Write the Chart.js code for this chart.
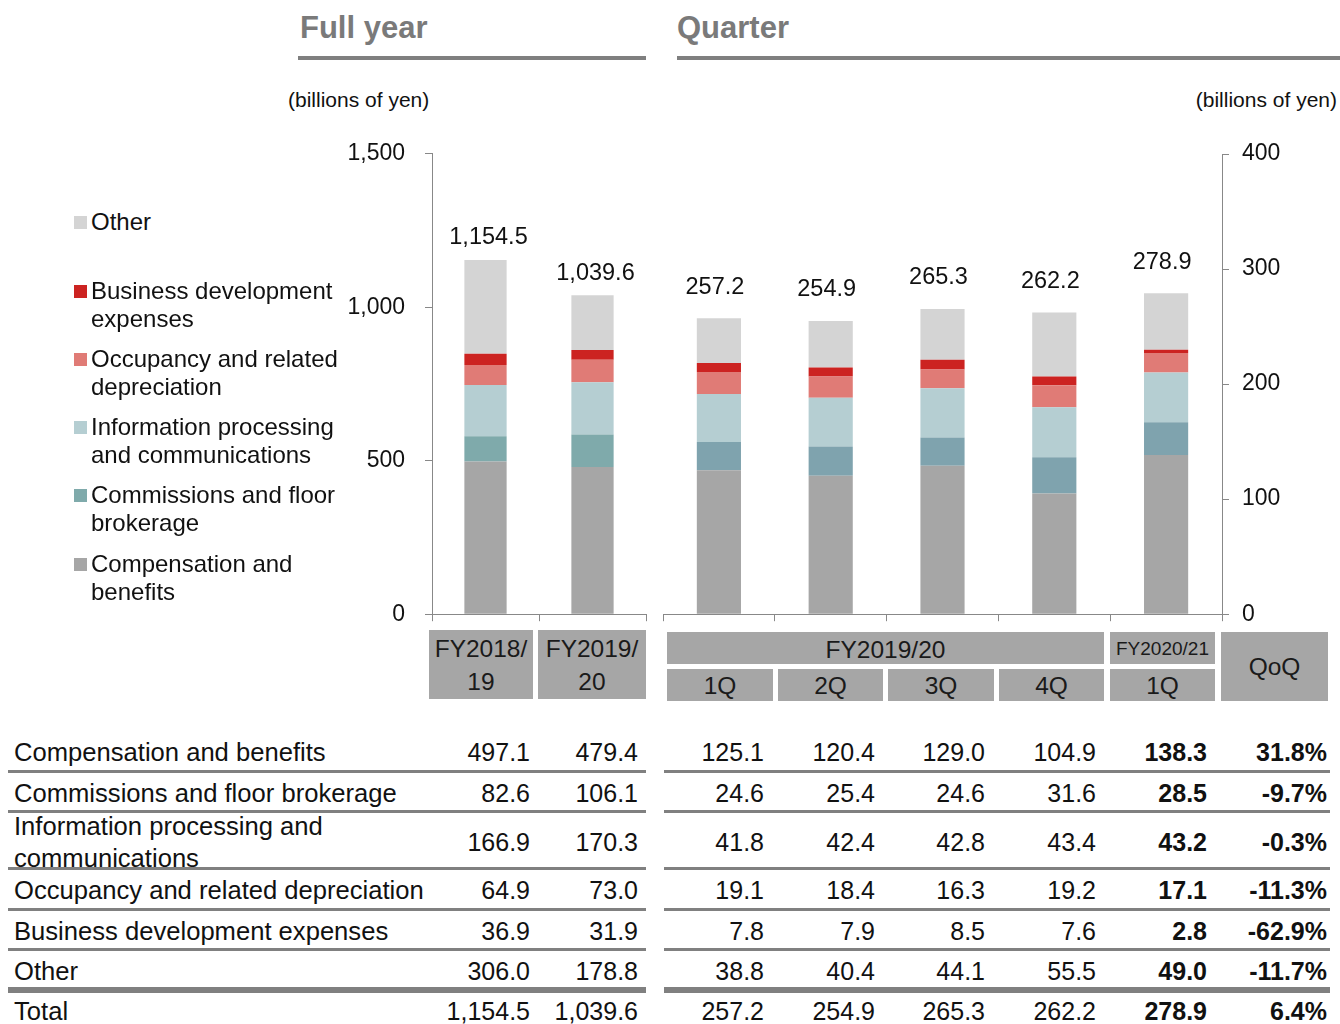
<!DOCTYPE html>
<html><head><meta charset="utf-8">
<script src="https://cdn.jsdelivr.net/npm/chart.js@4.4.0/dist/chart.umd.min.js"></script>
<style>
body{margin:0;width:1340px;height:1024px;position:relative;background:#fff;font-family:"Liberation Sans",Arial,sans-serif;overflow:hidden;color:#111}
.title{position:absolute;font-weight:bold;font-size:31px;color:#7a7a7a;line-height:36px}
.rule{position:absolute;background:#7f7f7f;height:4px}
.unit{position:absolute;font-size:21px;color:#111;line-height:24px}
.sw{position:absolute;width:13px;height:13px}
.lt{position:absolute;font-size:24px;line-height:27.5px;white-space:pre;color:#111}
.hbox{position:absolute;background:#a6a6a6;color:#1a1a1a;font-size:24.5px;display:flex;align-items:center;justify-content:center;text-align:center;line-height:33px;white-space:pre}
.cell{position:absolute;font-size:25px;white-space:pre;line-height:32px;transform:translateY(-50%)}
.cell.lab{font-size:25.6px}
.hl{position:absolute;background:#808080}
canvas{position:absolute}
</style>
</head><body>
<div class="title" style="left:300px;top:10px">Full year</div>
<div class="rule" style="left:298px;top:56px;width:348px"></div>
<div class="title" style="left:677px;top:10px">Quarter</div>
<div class="rule" style="left:677px;top:56px;width:663px"></div>
<div class="unit" style="left:288px;top:88px">(billions of yen)</div>
<div class="unit" style="right:3px;top:88px">(billions of yen)</div>

<canvas id="cFY" width="350" height="528" style="left:300px;top:120px"></canvas>
<canvas id="cQ" width="700" height="521" style="left:640px;top:120px"></canvas>
<div id="legend"></div>
<div id="table"></div>

<script>
// ---- data ----
const seriesNames = ['Compensation and benefits','Commissions and floor brokerage','Information processing and communications','Occupancy and related depreciation','Business development expenses','Other'];
const fyCategories = ['FY2018/\n19','FY2019/\n20'];
const qGroups = ['FY2019/20','FY2020/21'];
const qCategories = ['1Q','2Q','3Q','4Q','1Q'];

const compFY = [497.1, 479.4];
const commFY = [82.6, 106.1];
const infoFY = [166.9, 170.3];
const occFY  = [64.9, 73.0];
const busFY  = [36.9, 31.9];
const otherFY= [306.0, 178.8];
const totalFY= [1154.5, 1039.6];

const compQ = [125.1, 120.4, 129.0, 104.9, 138.3];
const commQ = [24.6, 25.4, 24.6, 31.6, 28.5];
const infoQ = [41.8, 42.4, 42.8, 43.4, 43.2];
const occQ  = [19.1, 18.4, 16.3, 19.2, 17.1];
const busQ  = [7.8, 7.9, 8.5, 7.6, 2.8];
const otherQ= [38.8, 40.4, 44.1, 55.5, 49.0];
const totalQ= [257.2, 254.9, 265.3, 262.2, 278.9];

const qoq = ['31.8%','-9.7%','-0.3%','-11.3%','-62.9%','-11.7%','6.4%'];
const tableRowLabels = ['Compensation and benefits','Commissions and floor brokerage','Information processing and\ncommunications','Occupancy and related depreciation','Business development expenses','Other','Total'];
const fyTicks = [0, 500, 1000, 1500];
const qTicks = [0, 100, 200, 300, 400];

// ---- styles ----
const colorsFY = ['#a6a6a6','#7faaab','#b5ced2','#e07b76','#cc2321','#d4d4d4'];
const colorsQ  = ['#a6a6a6','#7fa3ae','#b5ced2','#e07b76','#cc2321','#d4d4d4'];
const FONT = '"Liberation Sans", Arial, sans-serif';

const fmt = v => v.toLocaleString('en-US',{minimumFractionDigits:1,maximumFractionDigits:1});

const totalLabels = {
  id:'totalLabels',
  afterDatasetsDraw(chart, args, opts){
    const ctx = chart.ctx;
    const metas = chart.getSortedVisibleDatasetMetas();
    const top = metas[metas.length-1];
    ctx.save();
    ctx.font = '23.5px ' + FONT;
    ctx.fillStyle = '#111';
    ctx.textAlign = 'center';
    ctx.textBaseline = 'middle';
    top.data.forEach((el,i)=>{ ctx.fillText(fmt(opts.totals[i]), el.x + (opts.dx||0), el.y - opts.offset); });
    ctx.restore();
  }
};

function build(id, labels, seriesData, colors, o){
  return new Chart(document.getElementById(id), {
    type:'bar',
    data:{
      labels: labels,
      datasets: seriesData.map((d,i)=>({label:seriesNames[i], data:d, backgroundColor:colors[i], borderWidth:0,
        categoryPercentage:1, barPercentage:0.395}))
    },
    options:{
      responsive:false, animation:false, devicePixelRatio:1,
      layout:{padding:o.padding},
      plugins:{legend:{display:false}, tooltip:{enabled:false}, totalLabels:{totals:o.totals, offset:o.labelOffset, dx:o.dx}},
      scales:{
        x:{stacked:true, offset:true,
          grid:{offset:true, drawOnChartArea:false, drawTicks:true, tickLength:7, color:'#888', lineWidth:1},
          border:{display:true, color:'#888', width:1},
          ticks:{display:false}
        },
        y:{stacked:true, position:o.position, min:0, max:o.max,
          afterBuildTicks(s){ s.ticks = o.ticks.map(v=>({value:v})); },
          grid:{drawOnChartArea:false, drawTicks:true, tickLength:7, color:'#888'},
          border:{display:true, color:'#888', width:1},
          ticks:{padding:o.tickPad, color:'#111', font:{family:FONT, size:23},
            callback:v=>v.toLocaleString('en-US')},
          afterFit(s){ s.width = o.width; }
        }
      }
    },
    plugins:[totalLabels]
  });
}

build('cFY', fyCategories.map(s=>s.replace('\n','')), [compFY,commFY,infoFY,occFY,busFY,otherFY], colorsFY,
  {position:'left', max:1500, ticks:fyTicks, width:132, tickPad:20, padding:{top:32,right:4,left:0,bottom:0}, totals:totalFY, labelOffset:22, dx:3});
build('cQ', qCategories, [compQ,commQ,infoQ,occQ,busQ,otherQ], colorsQ,
  {position:'right', max:400, ticks:qTicks, width:118, tickPad:13, padding:{top:34,left:23,right:0,bottom:0}, totals:totalQ, labelOffset:31, dx:-4});

// ---- legend (top item = Other) ----
const legTops = [208, 277, 345, 413, 481, 550];
const legendOrder = [5,4,3,2,1,0];
const legendText = ['Compensation and\nbenefits','Commissions and floor\nbrokerage','Information processing\nand communications','Occupancy and related\ndepreciation','Business development\nexpenses','Other'];
let lh = '';
legendOrder.forEach((si,k)=>{
  const t = legTops[k];
  lh += `<div class="sw" style="left:74px;top:${t+8}px;background:${colorsFY[si]}"></div>`;
  lh += `<div class="lt" style="left:91px;top:${t}px">${legendText[si]}</div>`;
});
document.getElementById('legend').innerHTML = lh;

// ---- table ----
let th = '';
const box = (x1,y1,x2,y2,txt,extra='') => `<div class="hbox" style="left:${x1}px;top:${y1}px;width:${x2-x1}px;height:${y2-y1}px;${extra}">${txt}</div>`;
th += box(429,630,533,699,fyCategories[0]);
th += box(538,630,646,699,fyCategories[1]);
th += box(667,632,1104,664,qGroups[0],'padding-top:2px;box-sizing:border-box;');
th += box(1110,632,1215,664,qGroups[1],'font-size:19px;');
const qx = [[667,773],[778,883],[888,994],[999,1104],[1110,1215]];
qCategories.forEach((c,i)=> th += box(qx[i][0],669,qx[i][1],701,c));
th += box(1221,632,1328,701,'QoQ');

const rowY = [752, 793, 842, 890, 931, 971, 1011];
const colRight = [530, 638, 764, 875, 985, 1096, 1207, 1327];
const fyRows = [compFY,commFY,infoFY,occFY,busFY,otherFY,totalFY];
const qRows = [compQ,commQ,infoQ,occQ,busQ,otherQ,totalQ];
rowY.forEach((y,r)=>{
  th += `<div class="cell lab" style="left:14px;top:${y}px">${tableRowLabels[r]}</div>`;
  const vals = [...fyRows[r].map(fmt), ...qRows[r].map(fmt), qoq[r]];
  vals.forEach((v,c)=>{
    const bold = c>=6 ? 'font-weight:bold;' : '';
    th += `<div class="cell" style="right:${1340-colRight[c]}px;top:${y}px;${bold}">${v}</div>`;
  });
});
const lineY = [771, 811, 868, 909, 949];
lineY.forEach(y=>{
  th += `<div class="hl" style="left:8px;top:${y-1}px;width:638px;height:3px"></div>`;
  th += `<div class="hl" style="left:664px;top:${y-1}px;width:666px;height:3px"></div>`;
});
th += `<div class="hl" style="left:8px;top:987px;width:638px;height:6px"></div>`;
th += `<div class="hl" style="left:664px;top:987px;width:666px;height:6px"></div>`;
document.getElementById('table').innerHTML = th;
</script>
</body></html>
